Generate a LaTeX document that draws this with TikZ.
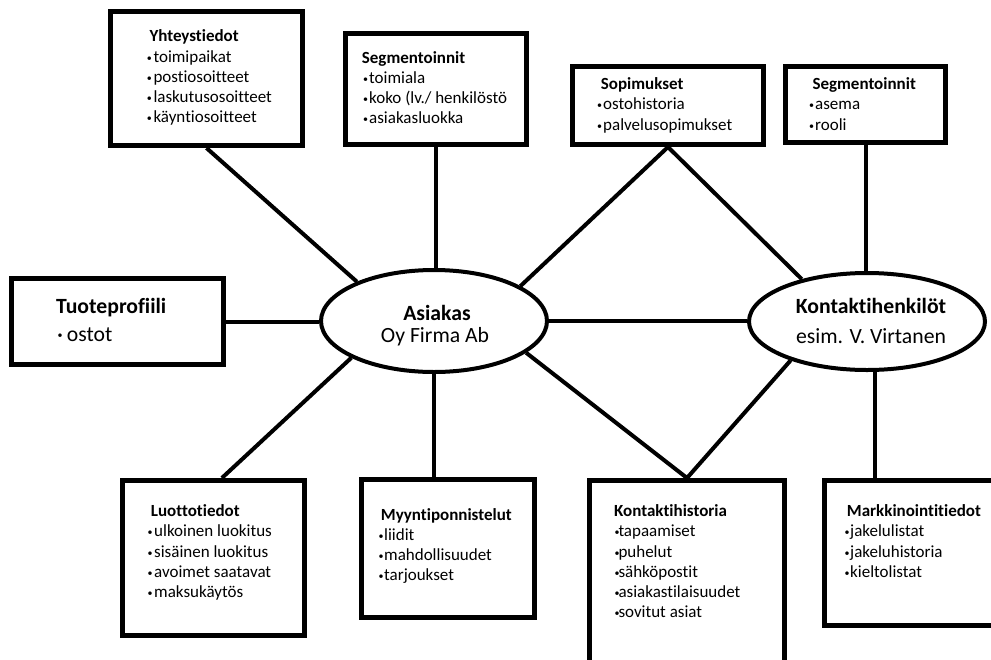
\documentclass[tikz,border=0pt]{standalone}
\usepackage{fontspec}
\setmainfont{Carlito}[Ligatures={NoCommon}]
\usetikzlibrary{shapes.geometric}
\newcommand\bl[1]{\llap{\makebox[#1][l]{\fontsize{10}{10}\selectfont\raisebox{1pt}{•}}}}
\newcommand\blb[1]{\llap{\makebox[#1][l]{\fontsize{10}{10}\selectfont\raisebox{2.5pt}{•}}}}
\begin{document}
\begin{tikzpicture}[x=1pt,y=-1pt,
  box/.style={draw,line width=5pt,inner sep=0},
  ell/.style={ellipse,draw,line width=4pt,inner sep=0},
  conn/.style={line width=4pt,line join=miter},
  head/.style={anchor=base west,inner sep=0,font=\fontsize{17}{20}\selectfont\bfseries},
  item/.style={anchor=base west,inner sep=0,font=\fontsize{17}{20}\selectfont},
  bighead/.style={inner sep=0,font=\fontsize{21.7}{26}\selectfont\bfseries},
  bigitem/.style={inner sep=0,font=\fontsize{21.7}{26}\selectfont}]
\useasboundingbox (0,0) rectangle (991,659);
\clip (0,0) rectangle (991,659);
\fill[white] (0,0) rectangle (991,659);

% boxes
\node[box,minimum width=192pt,minimum height=134pt] (yht) at (206.5,78.5) {};
\node[box,minimum width=181pt,minimum height=111pt] (seg1) at (436,89) {};
\node[box,minimum width=191pt,minimum height=78pt] (sop) at (668,105.5) {};
\node[box,minimum width=160pt,minimum height=76pt] (seg2) at (865.5,104.5) {};
\node[box,minimum width=212pt,minimum height=86pt] (tuo) at (117.5,321.5) {};
\node[box,minimum width=182pt,minimum height=155pt] (luo) at (213.5,558) {};
\node[box,minimum width=173pt,minimum height=138pt] (myy) at (448,548.5) {};
\node[box,minimum width=195pt,minimum height=219.5pt] (kh) at (687,590.25) {};
\node[box,minimum width=195.5pt,minimum height=145pt] (mar) at (922.25,553) {};

% ellipses
\node[ell,minimum width=226pt,minimum height=102pt] (asi) at (434,321) {};
\node[ell,minimum width=236pt,minimum height=97pt] (kon) at (867,321.5) {};

% connectors
\draw[conn] (yht.south) -- (asi.153);
\draw[conn] (seg1.south) -- (seg1.south |- asi.north);
\draw[conn] (asi.22) -- (sop.south) -- (kon.147);
\draw[conn] (seg2.south) -- (seg2.south |- kon.north);
\draw[conn] (tuo.east) -- (tuo.east -| asi.west);
\draw[conn] (asi.east) -- (asi.east -| kon.west);
\draw[conn] (asi.204) -- (luo.84);
\draw[conn] (asi.south) -- (asi.south |- myy.north);
\draw[conn] (asi.341) -- (kh.north) -- (kon.207);
\path (mar.north west) ++(52.5,0) coordinate (marTop);
\draw[conn] (marTop) -- (marTop |- kon.south);

% ellipse texts
\node[bighead,anchor=base] (asi-h) at (437,320) {Asiakas};
\node[bigitem,anchor=base] (asi-s) at (435,342) {Oy Firma Ab};
\node[bighead,anchor=base] (kon-h) at (871,313) {Kontaktihenkilöt};
\node[bigitem,anchor=base] (kon-s) at (871,343) {esim. V. Virtanen};

% Tuoteprofiili
\node[bighead,anchor=base west] (tuo-h) at (56,313) {Tuoteprofiili};
\node[bigitem,anchor=base west] (tuo-1) at (66.7,341) {\blb{9.4pt}ostot};

% Yhteystiedot
\node[head] (yht-h) at (149.3,41.7) {Yhteystiedot};
\foreach \t [count=\i] in {toimipaikat,postiosoitteet,laskutusosoitteet,käyntiosoitteet}
  \node[item] (yht-\i) at (153.3,{41.7+20.3*\i}) {\bl{6.6pt}\t};

% Segmentoinnit 1
\node[head] (seg1-h) at (361.7,63.5) {Segmentoinnit};
\foreach \t [count=\i] in {toimiala,{koko (lv./ henkilöstö},asiakasluokka}
  \node[item] (seg1-\i) at (369,{63+20.2*\i}) {\bl{6pt}\t};

% Sopimukset
\node[head] (sop-h) at (600.7,89) {Sopimukset};
\foreach \t [count=\i] in {ostohistoria,palvelusopimukset}
  \node[item] (sop-\i) at (603,{89.5+20.3*\i}) {\bl{6pt}\t};

% Segmentoinnit 2
\node[head] (seg2-h) at (812.3,89) {Segmentoinnit};
\foreach \t [count=\i] in {asema,rooli}
  \node[item] (seg2-\i) at (815,{89.5+20.3*\i}) {\bl{6pt}\t};

% Luottotiedot
\node[head] (luo-h) at (150.7,516.7) {Luottotiedot};
\foreach \t [count=\i] in {ulkoinen luokitus,sisäinen luokitus,avoimet saatavat,maksukäytös}
  \node[item] (luo-\i) at (154,{516.5+20.3*\i}) {\bl{6.7pt}\t};

% Myyntiponnistelut
\node[head] (myy-h) at (380.7,520) {Myyntiponnistelut};
\foreach \t [count=\i] in {liidit,mahdollisuudet,tarjoukset}
  \node[item] (myy-\i) at (384,{520+20.3*\i}) {\bl{5.7pt}\t};

% Kontaktihistoria
\node[head] (kh-h) at (614,516.7) {Kontaktihistoria};
\foreach \t [count=\i] in {tapaamiset,puhelut,sähköpostit,asiakastilaisuudet,sovitut asiat}
  \node[item] (kh-\i) at (618.3,{516.5+20.25*\i}) {\bl{4pt}\t};

% Markkinointitiedot
\node[head] (mar-h) at (846.7,516.7) {Markkinointitiedot};
\foreach \t [count=\i] in {jakelulistat,jakeluhistoria,kieltolistat}
  \node[item] (mar-\i) at (850,{516.5+20.3*\i}) {\bl{5.7pt}\t};
\end{tikzpicture}
\end{document}
